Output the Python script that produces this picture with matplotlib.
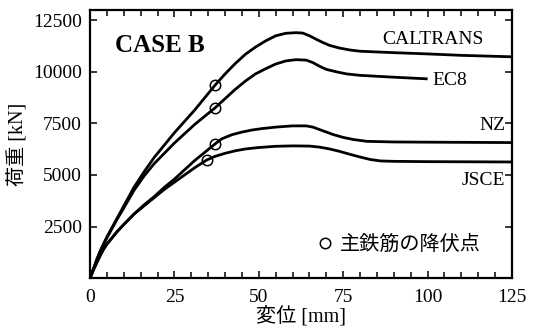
import matplotlib
matplotlib.use('Agg')
import matplotlib.pyplot as plt
from matplotlib.ticker import MultipleLocator

# load-displacement curves (displacement mm, load kN)
caltrans_x = [0, 1, 2, 3, 4, 5, 6.5, 8, 10, 13, 16, 19, 22, 25, 28, 31, 34, 37, 40, 43, 46, 49, 52, 55, 58,
              61, 63, 65, 67, 69, 71, 74, 77, 80, 90, 100, 110, 125]
caltrans_y = [0, 450, 900, 1300, 1650, 2000, 2450, 2900, 3500, 4400, 5150, 5850, 6450, 7050, 7600, 8150, 8750,
              9350, 9900, 10400, 10850, 11200, 11500, 11750, 11870, 11900, 11880, 11750, 11580, 11420, 11280,
              11150, 11060, 11000, 10930, 10870, 10800, 10730]

ec8_x = [0, 1, 2, 3, 4, 5, 6.5, 8, 10, 13, 16, 19, 22, 25, 28, 31, 34, 37, 40, 43, 46, 49, 52, 55, 58,
         61, 64, 66, 68, 70, 73, 76, 80, 90, 100]
ec8_y = [0, 450, 900, 1300, 1650, 1950, 2400, 2850, 3400, 4250, 4950, 5550, 6050, 6550, 7000, 7450, 7850,
         8250, 8700, 9150, 9550, 9900, 10150, 10380, 10530, 10590, 10570, 10450, 10270, 10120, 10000, 9900,
         9830, 9740, 9660]

nz_x = [0, 1, 2, 3, 4, 5, 6.5, 8, 10, 13, 16, 19, 22, 25, 28, 31, 34, 37, 39, 42, 45, 48, 51, 55, 60,
        64, 66, 68, 70, 72, 75, 78, 82, 90, 100, 125]
nz_y = [0, 400, 750, 1100, 1400, 1650, 1950, 2250, 2600, 3100, 3550, 3950, 4400, 4800, 5250, 5700, 6100,
        6500, 6750, 6950, 7080, 7180, 7250, 7320, 7380, 7380, 7320, 7200, 7080, 6960, 6820, 6720, 6630,
        6600, 6590, 6570]

jsce_x = [0, 1, 2, 3, 4, 5, 6.5, 8, 10, 13, 16, 19, 22, 25, 28, 31, 34.5, 37, 40, 43, 46, 50, 55, 60,
          65, 68, 71, 74, 77, 80, 83, 86, 90, 100, 125]
jsce_y = [0, 400, 750, 1100, 1400, 1650, 1950, 2250, 2600, 3100, 3500, 3900, 4300, 4650, 5000, 5350, 5720,
          5900, 6050, 6170, 6260, 6330, 6390, 6410, 6400, 6350, 6260, 6140, 6000, 5870, 5750, 5680, 5660,
          5645, 5630]

# yield points of main rebar
yield_x = [37, 37, 37, 34.5]
yield_y = [9350, 8250, 6500, 5720]

x_ticks = [0, 25, 50, 75, 100, 125]
y_ticks = [2500, 5000, 7500, 10000, 12500]

serif = 'Liberation Serif'
mixed = ['Liberation Serif', 'Noto Sans CJK JP']

fig = plt.figure(figsize=(5.33, 3.33), dpi=100)
ax = fig.add_axes([0.169, 0.165, 0.7916, 0.805])

for xs, ys in [(caltrans_x, caltrans_y), (ec8_x, ec8_y), (nz_x, nz_y), (jsce_x, jsce_y)]:
    ax.plot(xs, ys, color='black', lw=2.0, solid_capstyle='butt', solid_joinstyle='round')

ax.plot(yield_x, yield_y, 'o', ms=7.5, mfc='none', mec='black', mew=1.1, ls='none', label='主鉄筋の降伏点')

ax.set_xlim(0, 125)
ax.set_ylim(0, 13000)
ax.set_xticks(x_ticks)
ax.set_yticks(y_ticks)
ax.xaxis.set_minor_locator(MultipleLocator(5))
ax.tick_params(which='both', direction='in', top=True, right=True, width=1.1)
ax.tick_params(which='major', length=5, labelsize=14)
ax.tick_params(axis='x', pad=8)
ax.tick_params(axis='y', pad=6)
ax.tick_params(which='minor', length=4)
for lab in ax.get_xticklabels() + ax.get_yticklabels():
    lab.set_fontfamily(serif)
for s in ax.spines.values():
    s.set_linewidth(1.6)

ax.set_xlabel('変位 [mm]', family=mixed, fontsize=14.5, labelpad=0)
ax.set_ylabel('荷重 [kN]', family=mixed, fontsize=14.5, labelpad=3)

# curve labels
ax.text(101.5, 11550, 'CALTRANS', family=serif, fontsize=14, ha='center', va='center')
ax.text(101.5, 9560, 'EC8', family=serif, fontsize=14, ha='left', va='center')
ax.text(123, 7380, 'NZ', family=serif, fontsize=14, ha='right', va='center')
ax.text(123, 4720, 'JSCE', family=serif, fontsize=14, ha='right', va='center')
ax.text(7.4, 11260, 'CASE B', family=serif, fontsize=18, fontweight='bold', ha='left', va='center')

leg = ax.legend(loc='center left', bbox_to_anchor=(0.538, 0.125), frameon=False,
                handlelength=0.8, handletextpad=0.35, borderpad=0, borderaxespad=0,
                prop={'family': 'Noto Sans CJK JP', 'size': 14.5})

fig.savefig('out.png', dpi=100)
